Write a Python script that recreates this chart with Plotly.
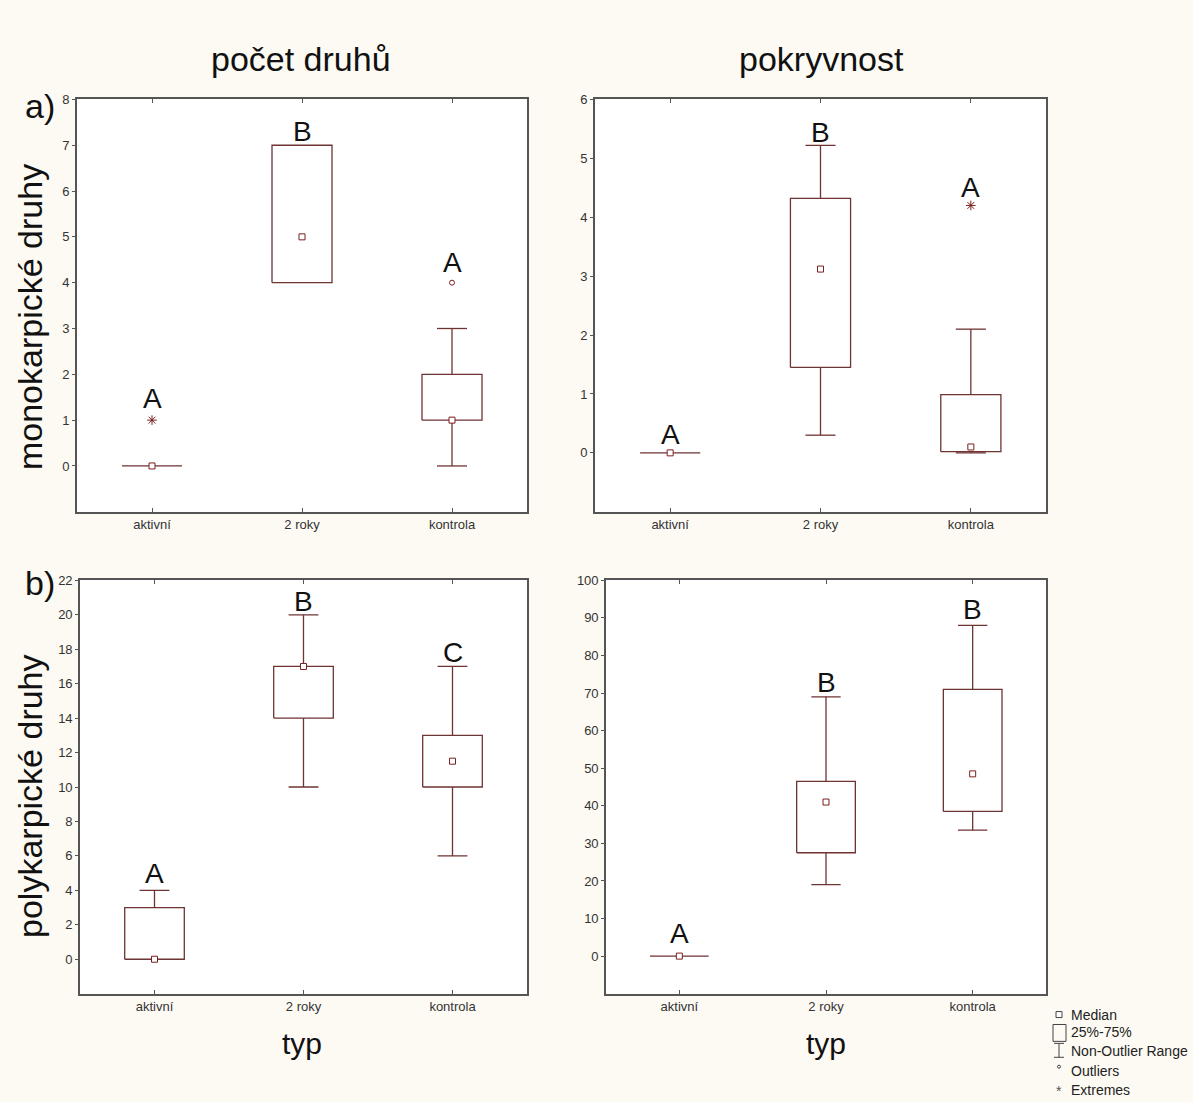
import plotly.graph_objects as go

W, H = 1193, 1102

categories = ["aktivní", "2 roky", "kontrola"]

# ---- panel a) počet druhů (monokarpické druhy)
tl_q1 = [0, 4, 1]
tl_med = [0, 5, 1]
tl_q3 = [0, 7, 2]
tl_lo = [0, 4, 0]
tl_hi = [0, 7, 3]
tl_out_x = [2]
tl_out_y = [4]
tl_ext_x = [0]
tl_ext_y = [1]
tl_letters = ["A", "B", "A"]
tl_letter_y = [1.47, 7.31, 4.45]

# ---- panel a) pokryvnost
tr_q1 = [0, 1.45, 0.02]
tr_med = [0, 3.12, 0.1]
tr_q3 = [0, 4.32, 0.99]
tr_lo = [0, 0.3, 0]
tr_hi = [0, 5.22, 2.1]
tr_out_x = []
tr_out_y = []
tr_ext_x = [2]
tr_ext_y = [4.2]
tr_letters = ["A", "B", "A"]
tr_letter_y = [0.32, 5.43, 4.5]

# ---- panel b) počet druhů (polykarpické druhy)
bl_q1 = [0, 14, 10]
bl_med = [0, 17, 11.5]
bl_q3 = [3, 17, 13]
bl_lo = [0, 10, 6]
bl_hi = [4, 20, 17]
bl_letters = ["A", "B", "C"]
bl_letter_y = [4.98, 20.8, 17.8]

# ---- panel b) pokryvnost
br_q1 = [0, 27.5, 38.5]
br_med = [0, 41, 48.5]
br_q3 = [0, 46.5, 71]
br_lo = [0, 19, 33.5]
br_hi = [0, 69, 88]
br_letters = ["A", "B", "B"]
br_letter_y = [6.1, 72.8, 92.3]

tl_ticks = list(range(0, 9))
tr_ticks = list(range(0, 7))
bl_ticks = list(range(0, 23, 2))
br_ticks = list(range(0, 101, 10))

BOX_COL = "#6e3333"
MED_COL = "#7a1f1f"
AX_COL = "#555555"
TXT = "#333333"
FONT = "Liberation Sans, Arial, sans-serif"

fig = go.Figure()


def add_panel(xa, ya, q1, med, q3, lo, hi, out_x=(), out_y=(), ext_x=(), ext_y=()):
    bw, cw = 0.2, 0.1
    bx, by, wx, wy = [], [], [], []
    for i in range(len(categories)):
        bx += [i - bw, i + bw, i + bw, i - bw, i - bw, None]
        by += [q1[i], q1[i], q3[i], q3[i], q1[i], None]
        if hi[i] > q3[i]:
            wx += [i, i, None, i - cw, i + cw, None]
            wy += [q3[i], hi[i], None, hi[i], hi[i], None]
        if lo[i] < q1[i]:
            wx += [i, i, None, i - cw, i + cw, None]
            wy += [q1[i], lo[i], None, lo[i], lo[i], None]
    fig.add_trace(go.Scatter(x=wx, y=wy, mode="lines", xaxis=xa, yaxis=ya,
                             line=dict(color=BOX_COL, width=1.3), showlegend=False, hoverinfo="skip"))
    fig.add_trace(go.Scatter(x=bx, y=by, mode="lines", xaxis=xa, yaxis=ya,
                             line=dict(color=BOX_COL, width=1.3), showlegend=False, hoverinfo="skip"))
    fig.add_trace(go.Scatter(x=list(range(len(categories))), y=med, mode="markers", xaxis=xa, yaxis=ya,
                             marker=dict(symbol="square", size=6, color="white",
                                         line=dict(color=MED_COL, width=1)),
                             showlegend=False, name="Median"))
    if len(out_x):
        fig.add_trace(go.Scatter(x=list(out_x), y=list(out_y), mode="markers", xaxis=xa, yaxis=ya,
                                 marker=dict(symbol="circle-open", size=5, color=MED_COL,
                                             line=dict(width=1)),
                                 showlegend=False, name="Outliers"))
    if len(ext_x):
        fig.add_trace(go.Scatter(x=list(ext_x), y=list(ext_y), mode="markers", xaxis=xa, yaxis=ya,
                                 marker=dict(symbol="asterisk-open", size=8, color=MED_COL,
                                             line=dict(width=1, color=MED_COL)),
                                 showlegend=False, name="Extremes"))


add_panel("x", "y", tl_q1, tl_med, tl_q3, tl_lo, tl_hi, tl_out_x, tl_out_y, tl_ext_x, tl_ext_y)
add_panel("x2", "y2", tr_q1, tr_med, tr_q3, tr_lo, tr_hi, tr_out_x, tr_out_y, tr_ext_x, tr_ext_y)
add_panel("x3", "y3", bl_q1, bl_med, bl_q3, bl_lo, bl_hi)
add_panel("x4", "y4", br_q1, br_med, br_q3, br_lo, br_hi)


def px(v):
    return v / W


def py(v):
    return 1 - v / H


def xaxis(domain, anchor):
    return dict(domain=domain, anchor=anchor, range=[-0.5, 2.5],
                tickvals=list(range(len(categories))), ticktext=categories,
                ticks="inside", ticklen=4, tickcolor=AX_COL, mirror="ticks",
                showline=True, linecolor=AX_COL, linewidth=1.6,
                showgrid=False, zeroline=False, fixedrange=True,
                tickfont=dict(family=FONT, size=13, color=TXT))


def yaxis(domain, anchor, rng, ticks):
    return dict(domain=domain, anchor=anchor, range=rng, tickvals=ticks,
                ticks="outside", ticklen=3, tickcolor=AX_COL, mirror=True,
                showline=True, linecolor=AX_COL, linewidth=1.6,
                showgrid=False, zeroline=False, fixedrange=True,
                tickfont=dict(family=FONT, size=13, color=TXT))


top_dom = [py(508), py(93)]
bot_dom = [py(993), py(577)]

annotations = []


def letters(xref, yref, labs, ys):
    for i, (t, yv) in enumerate(zip(labs, ys)):
        annotations.append(dict(x=i, y=yv, xref=xref, yref=yref, text=t, showarrow=False,
                                font=dict(family=FONT, size=28, color="#111111"),
                                xanchor="center", yanchor="middle"))


letters("x", "y", tl_letters, tl_letter_y)
letters("x2", "y2", tr_letters, tr_letter_y)
letters("x3", "y3", bl_letters, bl_letter_y)
letters("x4", "y4", br_letters, br_letter_y)


def txt(x, y, t, size=34, angle=0, xanchor="center"):
    annotations.append(dict(x=px(x), y=py(y), xref="paper", yref="paper", text=t, showarrow=False,
                            font=dict(family=FONT, size=size, color="#111111"), textangle=angle,
                            xanchor=xanchor, yanchor="middle"))


txt(301, 52, "počet druhů", size=34)
txt(821, 52, "pokryvnost", size=34)
txt(40, 100, "a)", size=34)
txt(40, 580, "b)", size=34)
txt(30, 312, "monokarpické druhy", size=34, angle=-90)
txt(30, 795, "polykarpické druhy", size=34, angle=-90)
txt(302, 1043, "typ", size=30)
txt(826, 1043, "typ", size=30)

# legend
leg_rows = [("Median", 1014), ("25%-75%", 1032), ("Non-Outlier Range", 1051),
            ("Outliers", 1071), ("Extremes", 1090)]
for lab, yy in leg_rows:
    annotations.append(dict(x=px(1069), y=py(yy), xref="paper", yref="paper", text=lab,
                            showarrow=False, xanchor="left", yanchor="middle",
                            font=dict(family=FONT, size=14, color="#222222")))
annotations.append(dict(x=px(1059), y=py(1091), xref="paper", yref="paper", text="*",
                        showarrow=False, xanchor="center", yanchor="middle",
                        font=dict(family=FONT, size=14, color="#555555")))

shapes = [
    dict(type="rect", xref="paper", yref="paper", x0=px(1056), x1=px(1062), y0=py(1017), y1=py(1011),
         line=dict(color="#444444", width=1), fillcolor="white"),
    dict(type="rect", xref="paper", yref="paper", x0=px(1053), x1=px(1066), y0=py(1041), y1=py(1024),
         line=dict(color="#444444", width=1)),
    dict(type="line", xref="paper", yref="paper", x0=px(1059), x1=px(1059), y0=py(1057), y1=py(1043),
         line=dict(color="#444444", width=1)),
    dict(type="line", xref="paper", yref="paper", x0=px(1054), x1=px(1064), y0=py(1043), y1=py(1043),
         line=dict(color="#444444", width=1)),
    dict(type="line", xref="paper", yref="paper", x0=px(1054), x1=px(1064), y0=py(1057), y1=py(1057),
         line=dict(color="#444444", width=1)),
    dict(type="circle", xref="paper", yref="paper", x0=px(1057.5), x1=px(1060.5), y0=py(1068), y1=py(1065),
         line=dict(color="#444444", width=1)),
]

fig.update_layout(
    width=W, height=H, margin=dict(l=0, r=0, t=0, b=0),
    paper_bgcolor="#fdfaf3", plot_bgcolor="white",
    showlegend=False,
    xaxis=xaxis([px(77), px(527)], "y"),
    yaxis=yaxis(top_dom, "x", [-1, 8], tl_ticks),
    xaxis2=xaxis([px(595), px(1046)], "y2"),
    yaxis2=yaxis(top_dom, "x2", [-1, 6], tr_ticks),
    xaxis3=xaxis([px(80), px(527)], "y3"),
    yaxis3=yaxis(bot_dom, "x3", [-2, 22], bl_ticks),
    xaxis4=xaxis([px(606), px(1046)], "y4"),
    yaxis4=yaxis(bot_dom, "x4", [-10, 100], br_ticks),
    annotations=annotations,
    shapes=shapes,
)

fig.write_html("out.html")
